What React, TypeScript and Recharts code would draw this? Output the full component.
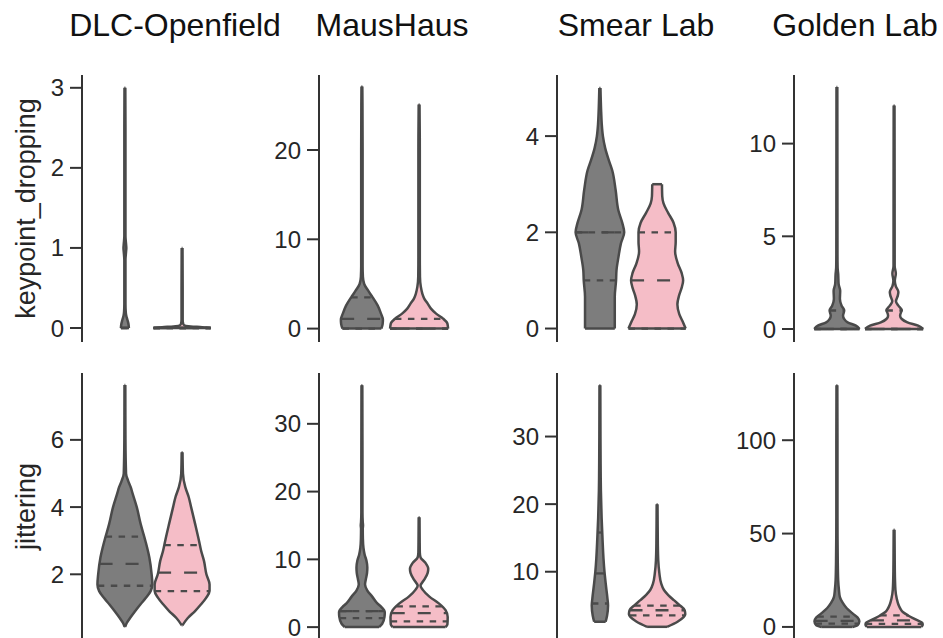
import React from 'react';
import { ComposedChart, Area, XAxis, YAxis, ReferenceLine } from 'recharts';

type Profile = [number, number][];

// Each violin: [value, half-width] pairs, half-width in category units
// (the two violins of a panel sit at -0.2 and +0.2 on a [-0.5, 0.5] axis).

// keypoint_dropping
const dropDlcGrey: Profile = [
  [0, 0.028], [0.05, 0.025], [0.1, 0.018], [0.15, 0.01], [0.2, 0.006], [0.3, 0.004],
  [0.6, 0.004], [0.85, 0.004], [0.95, 0.008], [1.0, 0.01], [1.05, 0.008], [1.15, 0.004],
  [1.5, 0.004], [2, 0.004], [2.5, 0.004], [3, 0.003],
];
const dropDlcPink: Profile = [
  [0, 0.2], [0.01, 0.14], [0.02, 0.06], [0.03, 0.02], [0.05, 0.008], [0.1, 0.004],
  [0.5, 0.004], [1, 0.003],
];
const dropMausGrey: Profile = [
  [0, 0.136], [0.5, 0.145], [1, 0.147], [1.7, 0.133], [2.6, 0.11], [3.5, 0.075],
  [4.3, 0.042], [5.0, 0.016], [5.8, 0.007], [7, 0.005], [10, 0.005], [15, 0.005],
  [20, 0.005], [25, 0.004], [27.1, 0.003],
];
const dropMausPink: Profile = [
  [0, 0.203], [0.56, 0.198], [1.12, 0.168], [1.68, 0.119], [2.24, 0.083], [2.8, 0.06],
  [3.36, 0.036], [3.9, 0.023], [4.7, 0.012], [5.8, 0.006], [8, 0.005], [15, 0.005],
  [20, 0.005], [25.1, 0.003],
];
const dropSmearGrey: Profile = [
  [0, 0.104], [0.66, 0.104], [1.0, 0.113], [1.21, 0.116], [1.49, 0.13], [1.77, 0.147],
  [2.0, 0.17], [2.19, 0.157], [2.46, 0.129], [2.88, 0.11], [3.29, 0.086], [3.5, 0.062],
  [3.75, 0.037], [4, 0.021], [4.25, 0.013], [4.5, 0.009], [5, 0.004],
];
const dropSmearPink: Profile = [
  [0, 0.2], [0.15, 0.178], [0.3, 0.155], [0.5, 0.142], [0.7, 0.155], [0.85, 0.172],
  [1.0, 0.182], [1.15, 0.172], [1.35, 0.145], [1.6, 0.126], [1.8, 0.13], [2.0, 0.13],
  [2.2, 0.115], [2.4, 0.078], [2.6, 0.045], [2.75, 0.036], [3.0, 0.034],
];
const dropGoldenGrey: Profile = [
  [0, 0.158], [0.18, 0.133], [0.36, 0.075], [0.54, 0.051], [0.72, 0.043], [1.0, 0.051],
  [1.26, 0.033], [1.62, 0.021], [2.07, 0.023], [2.43, 0.012], [2.97, 0.009], [3.33, 0.005],
  [4.05, 0.004], [13.05, 0.003],
];
const dropGoldenPink: Profile = [
  [0, 0.203], [0.18, 0.168], [0.36, 0.093], [0.54, 0.054], [0.72, 0.042], [0.9, 0.048],
  [1.0, 0.054], [1.26, 0.03], [1.5, 0.013], [1.8, 0.026], [2.0, 0.03], [2.3, 0.012],
  [2.6, 0.005], [3.0, 0.012], [3.4, 0.004], [4, 0.004], [12.05, 0.003],
];

// jittering
const jitDlcGrey: Profile = [
  [0.44, 0.002], [0.55, 0.013], [0.7, 0.036], [0.9, 0.071], [1.1, 0.108], [1.3, 0.147],
  [1.5, 0.18], [1.7, 0.192], [2.0, 0.187], [2.5, 0.171], [3.0, 0.143], [3.5, 0.11],
  [4.0, 0.083], [4.4, 0.054], [4.6, 0.04], [4.8, 0.021], [5.0, 0.008], [6.0, 0.004],
  [7.63, 0.003],
];
const jitDlcPink: Profile = [
  [0.48, 0.002], [0.7, 0.04], [0.9, 0.089], [1.1, 0.131], [1.3, 0.168], [1.5, 0.192],
  [1.7, 0.192], [2.0, 0.17], [2.4, 0.153], [2.7, 0.133], [3.0, 0.118], [3.5, 0.091],
  [4.0, 0.063], [4.3, 0.046], [4.6, 0.022], [5.0, 0.006], [5.63, 0.003],
];
const jitMausGrey: Profile = [
  [0, 0.12], [0.5, 0.142], [1.5, 0.158], [2.2, 0.16], [3.0, 0.135], [3.5, 0.108],
  [4.5, 0.072], [5.4, 0.038], [6.3, 0.022], [7.0, 0.027], [8.0, 0.036], [8.8, 0.038],
  [9.8, 0.032], [10.7, 0.019], [11.7, 0.011], [13, 0.007], [14.5, 0.006], [15, 0.008],
  [15.5, 0.006], [17, 0.004], [25, 0.004], [35.7, 0.003],
];
const jitMausPink: Profile = [
  [0, 0.185], [0.4, 0.198], [1.5, 0.2], [2.5, 0.185], [3.5, 0.138], [4.5, 0.072],
  [5.5, 0.026], [6.1, 0.01], [7.0, 0.036], [8.0, 0.06], [8.6, 0.064], [9.5, 0.044],
  [10.3, 0.01], [11, 0.005], [13, 0.004], [16.2, 0.003],
];
const jitSmearGrey: Profile = [
  [2.6, 0.04], [3.5, 0.05], [5, 0.057], [6, 0.053], [8, 0.042], [10, 0.032], [12, 0.025],
  [15, 0.018], [18, 0.012], [22, 0.007], [26, 0.005], [30, 0.004], [37.6, 0.003],
];
const jitSmearPink: Profile = [
  [1.85, 0.07], [2.6, 0.143], [3.7, 0.197], [4.3, 0.193], [5.07, 0.157], [5.8, 0.117],
  [6.55, 0.078], [7.3, 0.048], [8.3, 0.028], [9.75, 0.016], [11.7, 0.008], [14.2, 0.005],
  [16.7, 0.004], [20, 0.003],
];
const jitGoldenGrey: Profile = [
  [0, 0.11], [1, 0.145], [3, 0.157], [5, 0.145], [7, 0.113], [10, 0.069], [13, 0.04],
  [16, 0.021], [20, 0.014], [25, 0.009], [35, 0.006], [60, 0.004], [100, 0.004],
  [129.5, 0.003],
];
const jitGoldenPink: Profile = [
  [0, 0.19], [1, 0.2], [2, 0.198], [4, 0.15], [6, 0.101], [8, 0.061], [10, 0.042],
  [12, 0.03], [15, 0.019], [20, 0.009], [30, 0.005], [40, 0.004], [52, 0.003],
];

// quartiles [Q1, median, Q3]
const qDropDlcGrey = [0, 0, 0];
const qDropDlcPink = [0, 0, 0];
const qDropMausGrey = [0, 1.1, 3.5];
const qDropMausPink = [0, 0, 1.1];
const qDropSmearGrey = [1, 2, 2];
const qDropSmearPink = [0, 1, 2];
const qDropGoldenGrey = [0, 0, 1];
const qDropGoldenPink = [0, 0, 1];
const qJitDlcGrey = [1.66, 2.31, 3.12];
const qJitDlcPink = [1.5, 2.05, 2.87];
const qJitMausGrey = [1.33, 2.37, 2.37];
const qJitMausPink = [0.84, 2.07, 3.06];
const qJitSmearGrey = [5.3, 9.75, 15.8];
const qJitSmearPink = [3.55, 4.3, 5.0];
const qJitGoldenGrey = [1.8, 3.2, 5.5];
const qJitGoldenPink = [1.6, 3.5, 6.2];

// axis ticks and limits
const ticksDropDlc = [0, 1, 2, 3];
const ticksDropMaus = [0, 10, 20];
const ticksDropSmear = [0, 2, 4];
const ticksDropGolden = [0, 5, 10];
const ticksJitDlc = [2, 4, 6];
const ticksJitMaus = [0, 10, 20, 30];
const ticksJitSmear = [10, 20, 30];
const ticksJitGolden = [0, 50, 100];

const limDropDlc = [-0.175, 3.16];
const limDropMaus = [-1.5, 28.4];
const limDropSmear = [-0.28, 5.27];
const limDropGolden = [-0.7, 13.7];
const limJitDlc = [0.045, 7.99];
const limJitMaus = [-1.9, 37.5];
const limJitSmear = [-0.1, 39.4];
const limJitGolden = [-7, 136];

const columnTitles = ['DLC-Openfield', 'MausHaus', 'Smear Lab', 'Golden Lab'];
const rowTitles = ['keypoint_dropping', 'jittering'];

// styling
const FONT = '"Liberation Sans", Arial, Helvetica, sans-serif';
const TEXT = '#262626';
const SPINE = '#333333';
const EDGE = '#4a4a4a';
const GREY_FILL = '#7d7d7d';
const PINK_FILL = '#f5bdc7';
const GREY_X = -0.2;
const PINK_X = 0.2;
const LW = 2.5;

const COL_X = [82, 319, 556.5, 794];
const ROW_Y = [75, 373];
const TITLE_X = [175, 392, 636, 855];
const PLOT_W = 143;
const PLOT_H = 267;
const AXIS_W = 82;
const PAD = 8;

type Row = { v: number; g: number | null; p: number | null };

function buildRows(grey: Profile, pink: Profile): Row[] {
  const map = new Map<number, Row>();
  for (const [v, w] of grey) map.set(v, { v, g: w, p: null });
  for (const [v, w] of pink) {
    const r = map.get(v);
    if (r) r.p = w;
    else map.set(v, { v, g: null, p: w });
  }
  return Array.from(map.values()).sort((a, b) => a.v - b.v);
}

function widthAt(profile: Profile, v: number): number {
  if (v <= profile[0][0]) return profile[0][1];
  for (let i = 1; i < profile.length; i++) {
    const [v1, w1] = profile[i];
    const [v0, w0] = profile[i - 1];
    if (v <= v1) return w0 + ((w1 - w0) * (v - v0)) / (v1 - v0);
  }
  return profile[profile.length - 1][1];
}

type PanelProps = {
  col: number;
  row: number;
  grey: Profile;
  pink: Profile;
  qGrey: number[];
  qPink: number[];
  ticks: number[];
  lim: number[];
};

function violinMarks(profile: Profile, quart: number[], cx: number, key: string) {
  const marks: React.ReactNode[] = [];
  const lo = profile[0];
  const hi = profile[profile.length - 1];
  // flat ends of the violin body
  marks.push(
    <ReferenceLine key={key + 'lo'} ifOverflow="visible" stroke={EDGE} strokeWidth={LW}
      segment={[{ x: cx - lo[1], y: lo[0] }, { x: cx + lo[1], y: lo[0] }]} />,
    <ReferenceLine key={key + 'hi'} ifOverflow="visible" stroke={EDGE} strokeWidth={LW}
      segment={[{ x: cx - hi[1], y: hi[0] }, { x: cx + hi[1], y: hi[0] }]} />
  );
  quart.forEach((q, i) => {
    const w = widthAt(profile, q);
    marks.push(
      <ReferenceLine key={key + 'q' + i} ifOverflow="visible" stroke={EDGE} strokeWidth={2.3}
        strokeDasharray={i === 1 ? '13 13' : '6.5 6.5'}
        segment={[{ x: cx - w, y: q }, { x: cx + w, y: q }]} />
    );
  });
  return marks;
}

function Panel({ col, row, grey, pink, qGrey, qPink, ticks, lim }: PanelProps) {
  const data = buildRows(grey, pink);
  const left = COL_X[col] - AXIS_W;
  const top = ROW_Y[row] - PAD;
  const label = col === 0 ? rowTitles[row] : null;
  return (
    <div style={{ position: 'absolute', left, top }}>
      <ComposedChart
        layout="vertical"
        width={AXIS_W + PLOT_W + 4}
        height={PLOT_H + 2 * PAD}
        data={data}
        margin={{ top: PAD, right: 4, bottom: PAD, left: 0 }}
      >
        <XAxis type="number" domain={[-0.5, 0.5]} hide allowDataOverflow />
        <YAxis
          type="number"
          dataKey="v"
          domain={lim}
          ticks={ticks}
          interval={0}
          reversed
          allowDataOverflow
          width={AXIS_W}
          tickSize={12}
          tickMargin={6}
          axisLine={{ stroke: SPINE, strokeWidth: 2 }}
          tickLine={{ stroke: SPINE, strokeWidth: 2 }}
          tick={{ fill: TEXT, fontSize: 24, fontFamily: FONT }}
          label={
            label
              ? {
                  content: (props: any) => {
                    const vb = props.viewBox || { y: PAD, height: PLOT_H };
                    const cy = vb.y + vb.height / 2;
                    return (
                      <text x={26} y={cy} transform={`rotate(-90, 26, ${cy})`} textAnchor="middle"
                        dominantBaseline="central" fill={TEXT} fontSize={27} fontFamily={FONT}>
                        {label}
                      </text>
                    );
                  },
                }
              : undefined
          }
        />
        <Area
          dataKey={(r: Row) => (r.g == null ? [null, null] : [GREY_X - r.g, GREY_X + r.g])}
          type="monotone"
          fill={GREY_FILL}
          fillOpacity={1}
          stroke={EDGE}
          strokeWidth={LW}
          connectNulls
          dot={false}
          activeDot={false}
          isAnimationActive={false}
        />
        <Area
          dataKey={(r: Row) => (r.p == null ? [null, null] : [PINK_X - r.p, PINK_X + r.p])}
          type="monotone"
          fill={PINK_FILL}
          fillOpacity={1}
          stroke={EDGE}
          strokeWidth={LW}
          connectNulls
          dot={false}
          activeDot={false}
          isAnimationActive={false}
        />
        {violinMarks(grey, qGrey, GREY_X, 'g')}
        {violinMarks(pink, qPink, PINK_X, 'p')}
      </ComposedChart>
    </div>
  );
}

export default function App() {
  return (
    <div style={{ position: 'absolute', left: 0, top: 0, width: 943, height: 638, overflow: 'hidden', background: '#fff' }}>
      <svg width={943} height={60} style={{ position: 'absolute', left: 0, top: 0 }}>
        {columnTitles.map((t, i) => (
          <text key={t} x={TITLE_X[i]} y={36} textAnchor="middle" fill="#111" fontSize={32} fontFamily={FONT}>
            {t}
          </text>
        ))}
      </svg>
      <Panel col={0} row={0} grey={dropDlcGrey} pink={dropDlcPink} qGrey={qDropDlcGrey} qPink={qDropDlcPink} ticks={ticksDropDlc} lim={limDropDlc} />
      <Panel col={1} row={0} grey={dropMausGrey} pink={dropMausPink} qGrey={qDropMausGrey} qPink={qDropMausPink} ticks={ticksDropMaus} lim={limDropMaus} />
      <Panel col={2} row={0} grey={dropSmearGrey} pink={dropSmearPink} qGrey={qDropSmearGrey} qPink={qDropSmearPink} ticks={ticksDropSmear} lim={limDropSmear} />
      <Panel col={3} row={0} grey={dropGoldenGrey} pink={dropGoldenPink} qGrey={qDropGoldenGrey} qPink={qDropGoldenPink} ticks={ticksDropGolden} lim={limDropGolden} />
      <Panel col={0} row={1} grey={jitDlcGrey} pink={jitDlcPink} qGrey={qJitDlcGrey} qPink={qJitDlcPink} ticks={ticksJitDlc} lim={limJitDlc} />
      <Panel col={1} row={1} grey={jitMausGrey} pink={jitMausPink} qGrey={qJitMausGrey} qPink={qJitMausPink} ticks={ticksJitMaus} lim={limJitMaus} />
      <Panel col={2} row={1} grey={jitSmearGrey} pink={jitSmearPink} qGrey={qJitSmearGrey} qPink={qJitSmearPink} ticks={ticksJitSmear} lim={limJitSmear} />
      <Panel col={3} row={1} grey={jitGoldenGrey} pink={jitGoldenPink} qGrey={qJitGoldenGrey} qPink={qJitGoldenPink} ticks={ticksJitGolden} lim={limJitGolden} />
    </div>
  );
}
